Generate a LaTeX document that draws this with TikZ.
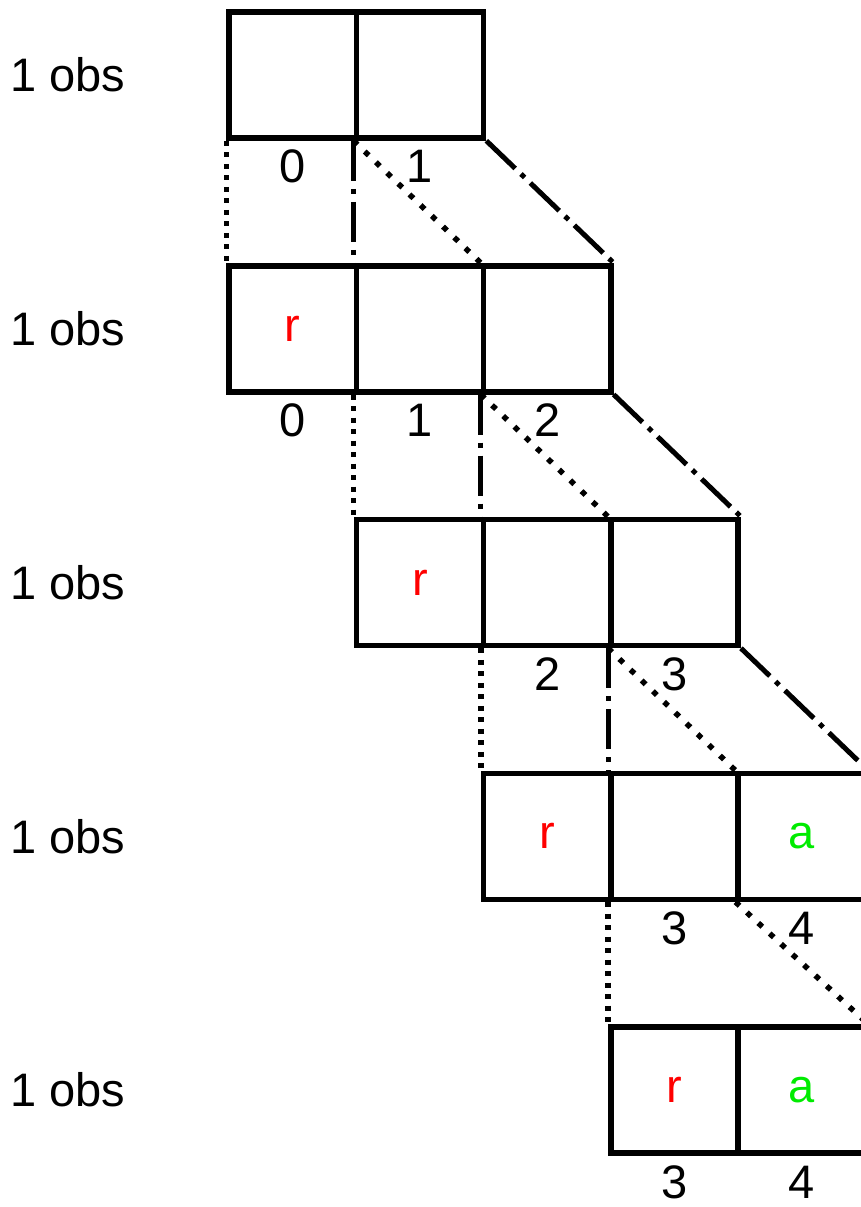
\documentclass[tikz,border=0pt]{standalone}
\usepackage{fontspec}
\setmainfont{Liberation Sans}
\begin{document}
\begin{tikzpicture}[x=1pt,y=1pt,
  cell/.style={draw, line width=5.5pt, rectangle, minimum width=127.3pt, minimum height=126pt, inner sep=0pt, font=\fontsize{47}{50}\selectfont},
  lbl/.style={inner sep=0pt, font=\fontsize{47}{50}\selectfont},
  dotline/.style={line width=5.5pt, dash pattern=on 5pt off 6.5pt},
  diagdot/.style={line width=5.5pt, dash pattern=on 5.5pt off 10pt},
  dashdotline/.style={line width=5pt, dash pattern=on 40pt off 8pt on 5pt off 8pt},
  redtxt/.style={text={rgb,255:red,255;green,0;blue,0}},
  greentxt/.style={text={rgb,255:red,0;green,235;blue,0}}]
\useasboundingbox (0,0) rectangle (861,-1207);
% row labels
\node[lbl, anchor=west] (o0) at (10,-75) {1 obs};
\node[lbl, anchor=west] (o1) at (10,-328.75) {1 obs};
\node[lbl, anchor=west] (o2) at (10,-582.5) {1 obs};
\node[lbl, anchor=west] (o3) at (10,-836.25) {1 obs};
\node[lbl, anchor=west] (o4) at (10,-1090) {1 obs};
% row 0
\node[cell] (c00) at (292.65,-75) {};
\node[cell] (c01) at (419.95,-75) {};
% row 1
\node[cell, redtxt] (c10) at (292.65,-328.75) {r};
\node[cell] (c11) at (419.95,-328.75) {};
\node[cell] (c12) at (547.25,-328.75) {};
% row 2
\node[cell, redtxt] (c21) at (419.95,-582.5) {r};
\node[cell] (c22) at (547.25,-582.5) {};
\node[cell] (c23) at (674.55,-582.5) {};
% row 3
\node[cell, redtxt] (c32) at (547.25,-836.25) {r};
\node[cell] (c33) at (674.55,-836.25) {};
\node[cell, greentxt] (c34) at (801.85,-836.25) {a};
% row 4
\node[cell, redtxt] (c43) at (674.55,-1090) {r};
\node[cell, greentxt] (c44) at (801.85,-1090) {a};
% index labels
\node[lbl] (n00) at (292.65,-166) {0};
\node[lbl] (n01) at (419.95,-166) {1};
\node[lbl] (n10) at (292.65,-420) {0};
\node[lbl] (n11) at (419.95,-420) {1};
\node[lbl] (n12) at (547.25,-420) {2};
\node[lbl] (n22) at (547.25,-674) {2};
\node[lbl] (n23) at (674.55,-674) {3};
\node[lbl] (n33) at (674.55,-928) {3};
\node[lbl] (n34) at (801.85,-928) {4};
\node[lbl] (n43) at (674.55,-1182) {3};
\node[lbl] (n44) at (801.85,-1182) {4};
% connectors row0 -> row1
\draw[dotline] (c00.south west) -- (c10.north west);
\draw[dashdotline] (c01.south west) -- (c11.north west);
\draw[diagdot] (c01.south west) -- (c12.north west);
\draw[dashdotline] (c01.south east) -- (c12.north east);
% row1 -> row2
\draw[dotline] (c11.south west) -- (c21.north west);
\draw[dashdotline] (c12.south west) -- (c22.north west);
\draw[diagdot] (c12.south west) -- (c23.north west);
\draw[dashdotline] (c12.south east) -- (c23.north east);
% row2 -> row3
\draw[dotline] (c22.south west) -- (c32.north west);
\draw[dashdotline] (c23.south west) -- (c33.north west);
\draw[diagdot] (c23.south west) -- (c34.north west);
\draw[dashdotline] (c23.south east) -- (c34.north east);
% row3 -> row4
\draw[dotline] (c33.south west) -- (c43.north west);
\draw[diagdot] (c34.south west) -- (c44.north east);
\end{tikzpicture}
\end{document}
